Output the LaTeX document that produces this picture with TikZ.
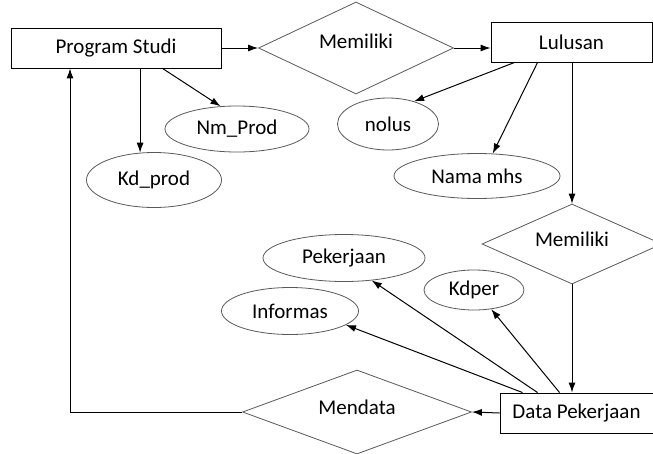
\documentclass[tikz,border=0pt]{standalone}
\usepackage{fontspec}
\setmainfont{Carlito}
\usetikzlibrary{shapes.geometric,arrows.meta,positioning}
\tikzset{
block/.style = {draw, line width=0.9pt, rectangle, minimum height=40pt, inner sep=0pt},
attr/.style  = {draw=black!65, line width=0.8pt, ellipse, inner sep=0pt},
rel/.style   = {draw=black!65, line width=0.8pt, diamond, aspect=2.5, inner sep=0pt, text depth=9pt},
link/.style  = {->, line width=1pt}
}

\begin{document}
\begin{tikzpicture}[x=1pt, y=-1pt, >={Latex[length=10pt,width=7pt]}, font=\fontsize{21}{25}\selectfont]
  \useasboundingbox (0,0) rectangle (653,453);
  % entitas
  \node [block, minimum width=210pt]                        (prodi)   at (116,48)    {Program Studi};
  \node [block, minimum width=161pt]                        (lulus)   at (571.5,42)  {Lulusan};
  \node [block, minimum width=153pt]                        (dataker) at (576.5,413) {Data Pekerjaan};
  % relasi
  \node [rel, minimum width=195pt, minimum height=92pt, text depth=13pt] (mem1) at (356,48) {Memiliki};
  \node [rel, minimum width=180pt, minimum height=80pt]     (mem2)    at (572,244)   {Memiliki};
  \node [rel, minimum width=229pt, minimum height=84pt]     (mendata) at (357,412)   {Mendata};
  % atribut
  \node [attr, minimum width=144pt, minimum height=46pt]    (nmprod)  at (237,129)   {Nm\_Prod};
  \node [attr, minimum width=135pt, minimum height=55pt]    (kdprod)  at (154,180)   {Kd\_prod};
  \node [attr, minimum width=101pt, minimum height=52pt]    (nolus)   at (388,124)   {nolus};
  \node [attr, minimum width=166pt, minimum height=45pt]    (namamhs) at (477,176)   {Nama mhs};
  \node [attr, minimum width=162pt, minimum height=47pt]    (pekerj)  at (344,258)   {Pekerjaan};
  \node [attr, minimum width=137pt, minimum height=47pt]    (inform)  at (290,311)   {Informas};
  \node [attr, minimum width=100pt, minimum height=40pt]    (kdper)   at (474,290)   {Kdper};
  \coordinate (belok) at (70,412);

  \draw [link] (prodi) -- (mem1);
  \draw [link] (mem1.east) -- (mem1.east -| lulus.west);
  \draw [link] (kdprod.117 |- prodi.south) -- (kdprod.117);
  \draw [link] ([xshift=152pt]prodi.south west) -- (nmprod.126);
  \draw [link] ([xshift=24pt]lulus.south west) -- (nolus.41);
  \draw [link] ([xshift=47pt]lulus.south west) -- (namamhs.55);
  \draw [link] (mem2.north |- lulus.south) -- (mem2.north);
  \draw [link] (mem2.south) -- (mem2.south |- dataker.north);
  \draw [link] ([xshift=23pt]dataker.north west) -- (inform.-14);
  \draw [link] ([xshift=38pt]dataker.north west) -- (pekerj.-39);
  \draw [link] ([xshift=60pt]dataker.north west) -- (kdper.-48);
  \draw [link] (dataker.west) -- (mendata.east);
  \draw [link] (mendata.west) -- (belok) -- (belok |- prodi.south);
\end{tikzpicture}
\end{document}
